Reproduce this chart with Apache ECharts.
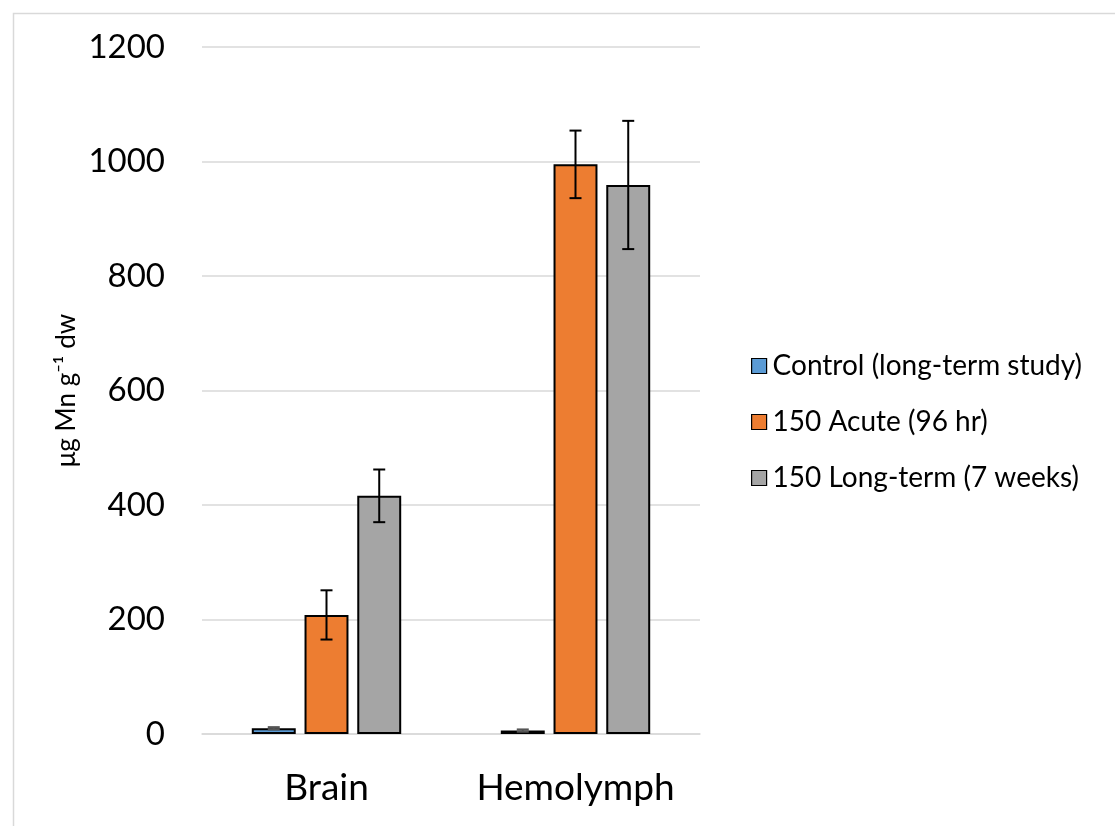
<!DOCTYPE html>
<html>
<head>
<meta charset="utf-8">
<script src="https://cdn.jsdelivr.net/npm/echarts@6/dist/echarts.min.js"></script>
<style>html,body{margin:0;padding:0;background:#fff;}#c{width:1115px;height:826px;}</style>
</head>
<body>
<div id="c"></div>
<script>
const categories = ['Brain', 'Hemolymph'];
const seriesNames = ['Control (long-term study)', '150 Acute (96 hr)', '150 Long-term (7 weeks)'];
const controlValues = [10, 6];
const acuteValues = [208, 995];
const longTermValues = [416, 959];
const controlErrors = [2, 2];
const acuteErrors = [43, 59];
const longTermErrors = [46, 112];
const yTicks = { min: 0, max: 1200, interval: 200 };
const yAxisTitle = 'μg Mn g⁻¹ dw';

const colors = ['#5B9BD5', '#ED7D31', '#A5A5A5'];
const values = [controlValues, acuteValues, longTermValues];
const errors = [controlErrors, acuteErrors, longTermErrors];
const FONT = 'Lato';
const CAT_GAP = 0.4, BAR_GAP = 0.2;

const chart = echarts.init(document.getElementById('c'));

const barSeries = values.map((v, i) => ({
  name: seriesNames[i],
  type: 'bar',
  data: v,
  barGap: (BAR_GAP * 100) + '%',
  barCategoryGap: (CAT_GAP * 100) + '%',
  itemStyle: { color: colors[i], borderColor: '#000', borderWidth: 2 },
  emphasis: { disabled: true },
  z: 2
}));

const errSeries = values.map((v, i) => ({
  type: 'custom',
  name: 'err' + i,
  data: v.map((val, k) => [k, val - errors[i][k], val + errors[i][k]]),
  z: 5,
  silent: true,
  renderItem: function (params, api) {
    const k = api.value(0);
    const band = api.size([1, 0])[0];
    const bw = band * (1 - CAT_GAP) / (3 + 2 * BAR_GAP);
    const off = (i - 1) * bw * (1 + BAR_GAP);
    const lo = api.coord([k, api.value(1)]);
    const hi = api.coord([k, api.value(2)]);
    const x = lo[0] + off;
    const cap = 6;
    const st = { stroke: i === 0 ? '#555' : '#000', lineWidth: 2 };
    return {
      type: 'group',
      children: [
        { type: 'line', shape: { x1: x, y1: lo[1], x2: x, y2: hi[1] }, style: st },
        { type: 'line', shape: { x1: x - cap, y1: lo[1], x2: x + cap, y2: lo[1] }, style: st },
        { type: 'line', shape: { x1: x - cap, y1: hi[1], x2: x + cap, y2: hi[1] }, style: st }
      ]
    };
  }
}));

chart.setOption({
  animation: false,
  backgroundColor: '#fff',
  graphic: [{
    type: 'rect', left: 11, top: 11, shape: { width: 1200, height: 900 },
    style: { fill: 'none', stroke: '#d9d9d9', lineWidth: 1.5 }, silent: true
  }],
  grid: { left: 202, right: 415, top: 47, bottom: 92 },
  legend: {
    orient: 'vertical',
    left: 746,
    top: 347,
    itemGap: 28,
    itemWidth: 15,
    itemHeight: 15,
    data: seriesNames.map((n, i) => ({
      name: n, icon: 'rect',
      itemStyle: { color: colors[i], borderColor: '#000', borderWidth: 1.2 }
    })),
    textStyle: { fontFamily: FONT, fontSize: 28, color: '#000', padding: [0, 0, 0, 1] }
  },
  xAxis: {
    type: 'category',
    data: categories,
    axisLine: { show: true, lineStyle: { color: '#d9d9d9', width: 1.5 } },
    axisTick: { show: false },
    axisLabel: { fontFamily: FONT, fontSize: 37, color: '#000', margin: 36, interval: 0 }
  },
  yAxis: {
    type: 'value',
    min: yTicks.min, max: yTicks.max, interval: yTicks.interval,
    axisLine: { show: false },
    axisTick: { show: false },
    splitLine: { lineStyle: { color: '#d9d9d9', width: 1.5 } },
    axisLabel: { fontFamily: FONT, fontSize: 33, color: '#000', margin: 37, formatter: v => String(v) },
    name: yAxisTitle,
    nameLocation: 'middle',
    nameGap: 122,
    nameTextStyle: { fontFamily: "Lato, 'DejaVu Sans'", fontSize: 26, color: '#000' }
  },
  series: barSeries.concat(errSeries)
});
</script>
</body>
</html>
